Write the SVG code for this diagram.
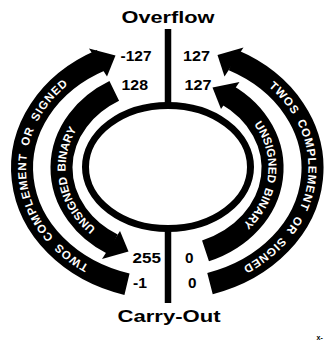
<svg xmlns="http://www.w3.org/2000/svg" width="326" height="345" viewBox="0 0 326 345">
<style>
.lbl{font-family:"Liberation Sans",Arial,sans-serif;font-weight:bold;fill:#000}
.num{font-family:"Liberation Sans",Arial,sans-serif;font-weight:bold;font-size:14.5px;fill:#000}
.band{fill:none;stroke:#000;stroke-width:22;stroke-linecap:butt}
.bt{font-family:"Liberation Sans",Arial,sans-serif;font-weight:bold;font-size:11.5px;fill:#fff}
.line{stroke:#000;stroke-width:6.5;fill:none}
</style>
<defs>
<path id="tpLO" d="M142.5,283.1 A140.9,116.9 0 0 1 118.8,58.1"/>
<path id="tpRO" d="M215.4,58.1 A141.4,116.9 0 0 1 184.2,284"/>
<path id="tpLI" d="M132.3,247.8 A101.4,84.9 0 0 1 106,100.2"/>
<path id="tpRI" d="M223,97.2 A101.4,84.9 0 0 1 207.4,245.9"/>
</defs>
<rect width="326" height="345" fill="#fff"/>
<g id="connectors">
<line class="line" x1="168" y1="29" x2="168" y2="103"/>
<line class="line" x1="168" y1="231" x2="168" y2="303"/>
</g>
<g id="center-ellipse">
<ellipse cx="168" cy="167" rx="82.5" ry="61.5" fill="none" stroke="#000" stroke-width="7"/>
</g>
<g id="overflow">
<text class="lbl" x="121.5" y="22.5" font-size="16" textLength="93" lengthAdjust="spacingAndGlyphs">Overflow</text>
</g>
<g id="carry-out">
<text class="lbl" x="117.5" y="321.7" font-size="16" textLength="103" lengthAdjust="spacingAndGlyphs">Carry-Out</text>
</g>
<g id="values">
<text class="num" x="120.5" y="60.5" textLength="31" lengthAdjust="spacingAndGlyphs">-127</text>
<text class="num" x="183" y="60.5" textLength="27" lengthAdjust="spacingAndGlyphs">127</text>
<text class="num" x="121.5" y="90" textLength="26.5" lengthAdjust="spacingAndGlyphs">128</text>
<text class="num" x="184.5" y="90" textLength="27" lengthAdjust="spacingAndGlyphs">127</text>
<text class="num" x="132.5" y="262.5" textLength="28.5" lengthAdjust="spacingAndGlyphs">255</text>
<text class="num" x="185" y="262.5" textLength="8.5" lengthAdjust="spacingAndGlyphs">0</text>
<text class="num" x="133" y="288" textLength="14" lengthAdjust="spacingAndGlyphs">-1</text>
<text class="num" x="188" y="288" textLength="8.5" lengthAdjust="spacingAndGlyphs">0</text>
</g>
<g id="left-signed">
<path class="band" d="M127,284.3 A145,121 0 0 1 101.2,60.2"/>
<polygon points="89,48.5 115.5,55.5 107,76.5"/>
<text class="bt" letter-spacing="0.9" word-spacing="3" text-anchor="middle"><textPath href="#tpLO" startOffset="50%">TWOS COMPLEMENT OR SIGNED</textPath></text>
</g>
<g id="right-signed">
<path class="band" d="M210,283.6 A145.5,121 0 0 0 233.1,60.2"/>
<polygon points="243.5,47.5 217.5,55 224.5,76.5"/>
<text class="bt" letter-spacing="0.9" word-spacing="3" text-anchor="middle"><textPath href="#tpRO" startOffset="50%">TWOS COMPLEMENT OR SIGNED</textPath></text>
</g>
<g id="left-unsigned">
<path class="band" d="M114.25,90.9 A105.5,89 0 0 0 112.7,244.3"/>
<polygon points="102,259 120,231 128.5,251.5"/>
<text class="bt" letter-spacing="0.1" word-spacing="1.5" text-anchor="middle"><textPath href="#tpLI" startOffset="50%">UNSIGNED BINARY</textPath></text>
</g>
<g id="right-unsigned">
<path class="band" d="M205.5,250.9 A105.5,89 0 0 0 226,94.2"/>
<polygon points="239.5,82 212.5,87.5 221,109"/>
<text class="bt" letter-spacing="0.1" word-spacing="1.5" text-anchor="middle"><textPath href="#tpRI" startOffset="50%">UNSIGNED BINARY</textPath></text>
</g>
<g id="figure-id">
<text class="lbl" x="316.5" y="340" font-size="7">x-</text>
</g>
</svg>
